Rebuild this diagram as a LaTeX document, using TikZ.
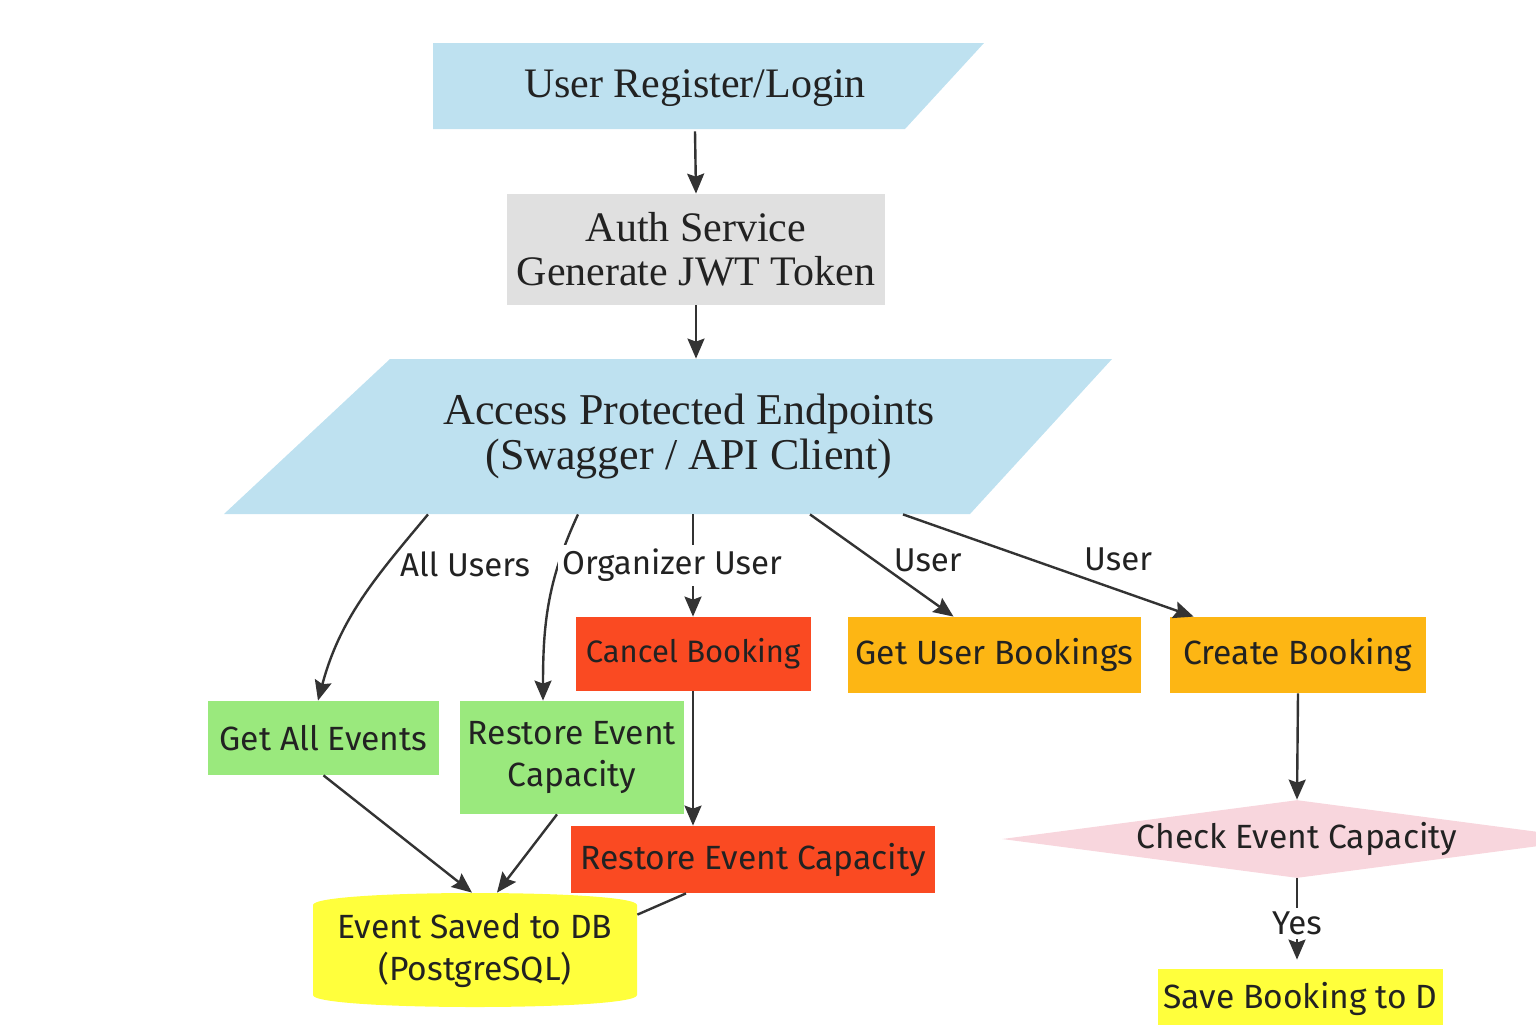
\documentclass[tikz,border=0pt]{standalone}
\usepackage{fontspec}
\setmainfont{Liberation Serif}
\setsansfont{Fira Sans}
\usepackage{tikz}
\usetikzlibrary{shapes,arrows,arrows.meta,positioning}
\definecolor{apiblue}{RGB}{190,225,240}
\definecolor{authgray}{RGB}{224,224,224}
\definecolor{orgred}{RGB}{250,74,34}
\definecolor{userorange}{RGB}{253,182,20}
\definecolor{evgreen}{RGB}{154,233,125}
\definecolor{dbyellow}{RGB}{255,255,60}
\definecolor{checkpink}{RGB}{248,214,221}
\definecolor{ink}{RGB}{34,34,34}
\definecolor{wire}{RGB}{51,51,51}

\begin{document}
\begin{tikzpicture}[x=0.5pt, y=-0.5pt]
    \tikzstyle{entry} = [text=ink, font=\fontsize{21}{22}\selectfont, align=center]
    \tikzstyle{block} = [rectangle, text=ink, font=\sffamily\fontsize{16.8}{21}\selectfont, align=center, inner sep=0pt]
    \tikzstyle{arrow} = [line width=1.2pt, wire, ->, >={Stealth[length=10pt,width=8.5pt,inset=1.5pt]}]
    \tikzstyle{edgelabel} = [text=ink, font=\sffamily\fontsize{16.5}{20}\selectfont, inner sep=2pt]

    \useasboundingbox (0,0) rectangle (1536,1024);
    \clip (0,0) rectangle (1536,1024);

    % input shapes and database drawn directly
    \fill[apiblue] (433,43) -- (984,43) -- (905,129) -- (433,129) -- cycle;
    \fill[apiblue] (390,359) -- (1112,359) -- (970,514) -- (224,514) -- cycle;
    \fill[dbyellow] (313,905) .. controls (313,889) and (637,889) .. (637,905) -- (637,995) .. controls (637,1011) and (313,1011) .. (313,995) -- cycle;

    \node [entry, minimum height=43pt] (login) at (695,88) {User Register/Login};
    \node [entry, rectangle, fill=authgray, minimum width=189pt, minimum height=55.5pt] (auth) at (696,249.5) {Auth Service\\Generate JWT Token};
    \node [entry, font=\fontsize{22}{22.5}\selectfont, minimum height=77.5pt] (access) at (689,436.5) {Access Protected Endpoints\\(Swagger / API Client)};

    \node [block, fill=orgred, font=\sffamily\fontsize{15.5}{21}\selectfont, minimum width=117.5pt, minimum height=37pt] (cancel) at (693,654) {Cancel Booking};
    \node [block, fill=userorange, minimum width=146.5pt, minimum height=38pt] (userbk) at (994.5,655) {Get User Bookings};
    \node [block, fill=userorange, minimum width=128pt, minimum height=38pt] (create) at (1298,655) {Create Booking};
    \node [block, fill=evgreen, minimum width=115.5pt, minimum height=37pt] (allev) at (323.5,738) {Get All Events};
    \node [block, fill=evgreen, minimum width=112pt, minimum height=56.5pt] (restoreg) at (572,757.5) {Restore Event\\Capacity};
    \node [block, fill=orgred, minimum width=182pt, minimum height=33.5pt] (restorer) at (753,859.5) {Restore Event Capacity};
    \node [block, minimum width=162pt, minimum height=57pt] (db) at (475,950) {Event Saved to DB\\(PostgreSQL)};
    \node [block, diamond, fill=checkpink, aspect=7.5, minimum width=295pt, minimum height=39pt] (check) at (1297,839) {Check Event Capacity};
    \node [block, fill=dbyellow, minimum width=142.5pt, minimum height=30pt] (save) at (1300.5,999) {Save Booking to D};

    \draw [arrow] (login.south) -- (auth.north);
    \draw [arrow] (auth.south) -- (auth.south |- access.north);

    \draw [arrow] ([xshift=-130.5pt]access.south) to[out=-130, in=75] node[edgelabel, pos=0.28, right=4pt] {All Users} ([xshift=-2.75pt]allev.north);
    \draw [arrow] ([xshift=-55.5pt]access.south) to[out=-115, in=90] ([xshift=-14.5pt]restoreg.north);
    \draw [arrow] (cancel.north |- access.south) -- node[edgelabel, fill=white, xshift=-10.5pt] {Organizer User} (cancel.north);
    \draw [arrow] ([xshift=60.5pt]access.south) -- node[edgelabel, pos=0.45, right=7pt] {User} ([xshift=-20.5pt]userbk.north);
    \draw [arrow] ([xshift=107pt]access.south) -- node[edgelabel, pos=0.74, above=7pt] {User} ([xshift=12pt]create.north west);

    \draw [arrow] (cancel.south) -- (cancel.south |- restorer.north);
    \draw [arrow] (allev.south) -- ([xshift=-1.5pt]db.north);
    \draw [arrow] ([xshift=-7.5pt]restoreg.south) -- ([xshift=11pt]db.north);
    \draw [line width=1.2pt, wire] ([xshift=-33.5pt]restorer.south) -- ([yshift=-11pt]db.north east);

    \draw [arrow] (create.south) -- (check.north);
    \draw [arrow, shorten >=4.5pt] (check.south) -- node[edgelabel, fill=white] {Yes} (check.south |- save.north);
\end{tikzpicture}
\end{document}
